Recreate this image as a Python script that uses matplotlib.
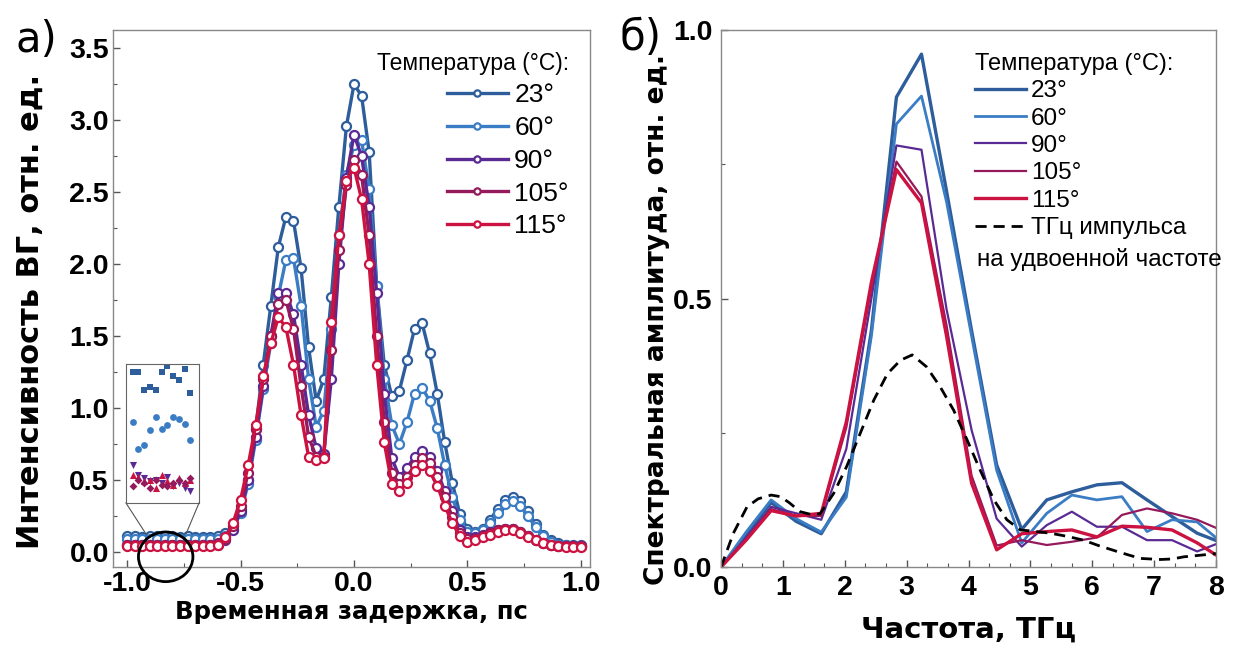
import matplotlib
matplotlib.use('Agg')
import matplotlib.pyplot as plt
from matplotlib.ticker import MultipleLocator, AutoMinorLocator
from matplotlib.patches import Ellipse
from matplotlib.lines import Line2D
import numpy as np

plt.rcParams['font.family'] = ['Liberation Sans', 'DejaVu Sans']
LABEL_FONT = ['DejaVu Sans']

# ---- panel a: SHG intensity vs delay ----
delay = np.round(np.arange(61) / 30.0 - 1.0, 4)  # ps, step 1/30 ps

temps = ['23°', '60°', '90°', '105°', '115°']
colors = ['#2d5d9b', '#3b7dc4', '#5a2a94', '#951a5c', '#cc1240']

shg_23 = [0.11, 0.11, 0.10, 0.11, 0.11, 0.11, 0.11, 0.10, 0.11, 0.10, 0.10, 0.10,
          0.11, 0.13, 0.18, 0.30, 0.50, 0.85, 1.30, 1.71, 2.12, 2.33, 2.30, 1.97,
          1.42, 1.05, 1.20, 1.77, 2.40, 2.96, 3.25, 3.17, 2.78, 1.85, 1.30, 1.08,
          1.12, 1.33, 1.55, 1.59, 1.38, 1.10, 0.76, 0.48, 0.26, 0.16, 0.14, 0.16,
          0.22, 0.30, 0.36, 0.38, 0.35, 0.28, 0.19, 0.12, 0.08, 0.06, 0.05, 0.05,
          0.05]
shg_60 = [0.09, 0.09, 0.09, 0.09, 0.09, 0.09, 0.09, 0.09, 0.09, 0.09, 0.09, 0.09,
          0.09, 0.11, 0.16, 0.27, 0.47, 0.78, 1.13, 1.45, 1.78, 2.03, 2.04, 1.71,
          1.20, 0.87, 0.98, 1.55, 2.20, 2.62, 2.83, 2.86, 2.52, 1.85, 1.20, 0.88,
          0.75, 0.90, 1.10, 1.14, 1.05, 0.86, 0.60, 0.38, 0.22, 0.14, 0.13, 0.15,
          0.20, 0.27, 0.33, 0.35, 0.32, 0.25, 0.17, 0.11, 0.07, 0.05, 0.05, 0.04,
          0.04]
shg_90 = [0.05, 0.05, 0.05, 0.05, 0.05, 0.05, 0.05, 0.05, 0.05, 0.05, 0.05, 0.05,
          0.05, 0.08, 0.15, 0.28, 0.50, 0.80, 1.15, 1.50, 1.80, 1.80, 1.65, 1.30,
          0.95, 0.72, 0.68, 1.20, 2.00, 2.60, 2.90, 2.75, 2.40, 1.80, 1.10, 0.65,
          0.52, 0.58, 0.66, 0.70, 0.66, 0.56, 0.42, 0.28, 0.15, 0.10, 0.10, 0.12,
          0.14, 0.15, 0.16, 0.16, 0.14, 0.11, 0.08, 0.06, 0.05, 0.04, 0.04, 0.04,
          0.04]
shg_105 = [0.05, 0.05, 0.05, 0.05, 0.05, 0.05, 0.05, 0.05, 0.05, 0.05, 0.05, 0.05,
           0.06, 0.09, 0.18, 0.32, 0.55, 0.85, 1.20, 1.50, 1.72, 1.75, 1.55, 1.15,
           0.80, 0.66, 0.66, 1.40, 2.10, 2.55, 2.72, 2.62, 2.20, 1.50, 0.90, 0.55,
           0.47, 0.52, 0.60, 0.65, 0.62, 0.52, 0.38, 0.24, 0.13, 0.09, 0.09, 0.11,
           0.13, 0.15, 0.16, 0.16, 0.14, 0.11, 0.08, 0.06, 0.05, 0.04, 0.04, 0.04,
           0.04]
shg_115 = [0.04, 0.04, 0.04, 0.04, 0.04, 0.04, 0.04, 0.04, 0.04, 0.04, 0.04, 0.04,
           0.05, 0.10, 0.20, 0.36, 0.60, 0.88, 1.22, 1.45, 1.63, 1.56, 1.30, 0.95,
           0.66, 0.64, 0.65, 1.60, 2.20, 2.58, 2.67, 2.45, 2.00, 1.30, 0.76, 0.47,
           0.42, 0.48, 0.56, 0.60, 0.56, 0.46, 0.32, 0.20, 0.11, 0.07, 0.08, 0.10,
           0.12, 0.14, 0.15, 0.15, 0.13, 0.10, 0.08, 0.06, 0.05, 0.04, 0.03, 0.03,
           0.03]
shg_series = [shg_23, shg_60, shg_90, shg_105, shg_115]

# zoomed baseline (inset)
inset_idx = np.arange(11)
inset_sq = [0.114, 0.114, 0.103, 0.105, 0.103, 0.114, 0.118, 0.112, 0.109, 0.116, 0.101]
inset_ci = [0.083, 0.066, 0.069, 0.078, 0.086, 0.079, 0.081, 0.086, 0.085, 0.082, 0.072]
inset_dn = [0.056, 0.050, 0.048, 0.046, 0.047, 0.045, 0.049, 0.043, 0.045, 0.042, 0.040]
inset_up = [0.050, 0.049, 0.046, 0.047, 0.042, 0.050, 0.046, 0.044, 0.048, 0.045, 0.047]
inset_dm = [0.043, 0.047, 0.045, 0.042, 0.047, 0.044, 0.043, 0.045, 0.047, 0.045, 0.048]

# ---- panel b: spectra ----
freq = np.round(np.arange(21) * 0.405, 3)  # THz
spec_23 = [0, 0.060, 0.120, 0.085, 0.062, 0.140, 0.440, 0.875, 0.955, 0.700, 0.440,
           0.190, 0.070, 0.125, 0.140, 0.153, 0.157, 0.125, 0.094, 0.063, 0.045]
spec_60 = [0, 0.065, 0.125, 0.090, 0.065, 0.130, 0.430, 0.825, 0.877, 0.680, 0.430,
           0.180, 0.045, 0.100, 0.134, 0.125, 0.131, 0.066, 0.088, 0.084, 0.045]
spec_90 = [0, 0.055, 0.112, 0.100, 0.088, 0.220, 0.500, 0.785, 0.777, 0.480, 0.255,
           0.090, 0.038, 0.078, 0.103, 0.075, 0.075, 0.050, 0.050, 0.029, 0.047]
spec_105 = [0, 0.050, 0.108, 0.095, 0.095, 0.260, 0.520, 0.755, 0.690, 0.450, 0.170,
            0.040, 0.050, 0.041, 0.047, 0.055, 0.097, 0.109, 0.100, 0.088, 0.068]
spec_115 = [0, 0.050, 0.105, 0.095, 0.100, 0.270, 0.530, 0.740, 0.678, 0.430, 0.156,
            0.032, 0.062, 0.066, 0.069, 0.056, 0.076, 0.074, 0.069, 0.045, 0.015]
spec_series = [spec_23, spec_60, spec_90, spec_105, spec_115]
spec_lw = [2.4, 2.0, 1.6, 1.6, 2.4]

pulse_f = [0, 0.2, 0.42, 0.6, 0.81, 0.96, 1.1, 1.28, 1.45, 1.6, 1.82, 2.03, 2.25,
           2.47, 2.69, 2.9, 3.09, 3.32, 3.54, 3.76, 3.98, 4.19, 4.41, 4.62, 4.84,
           5.1, 5.32, 5.6, 5.86, 6.1, 6.4, 6.6, 6.78, 7.1, 7.3, 7.48, 7.75, 8.0]
pulse_a = [0, 0.063, 0.112, 0.127, 0.134, 0.131, 0.120, 0.103, 0.098, 0.099, 0.137,
           0.187, 0.249, 0.311, 0.360, 0.385, 0.395, 0.373, 0.336, 0.292, 0.236,
           0.180, 0.125, 0.088, 0.069, 0.066, 0.063, 0.057, 0.050, 0.040, 0.029,
           0.022, 0.016, 0.014, 0.015, 0.019, 0.022, 0.025]

fig = plt.figure(figsize=(12.34, 6.45), dpi=100)
ax1 = fig.add_axes([0.0916, 0.1209, 0.3865, 0.8326])
ax2 = fig.add_axes([0.5843, 0.1209, 0.4011, 0.8326])

for vals, lab, c in zip(shg_series, temps, colors):
    ax1.plot(delay, vals, '-o', color=c, lw=2.4, ms=6.5, mfc='white', mec=c,
             mew=1.6, label=lab)

ax1.set_xlim(-1.062, 1.04)
ax1.set_ylim(-0.106, 3.627)
ax1.xaxis.set_major_locator(MultipleLocator(0.5))
ax1.xaxis.set_minor_locator(AutoMinorLocator(2))
ax1.yaxis.set_major_locator(MultipleLocator(0.5))
ax1.yaxis.set_minor_locator(AutoMinorLocator(2))
ax1.set_xlabel('Временная задержка, пс', fontsize=17.6, fontweight='bold',
               family=LABEL_FONT, labelpad=2)
ax1.set_ylabel('Интенсивность ВГ, отн. ед.', fontsize=22, fontweight='bold',
               family=LABEL_FONT)
ax1.yaxis.set_label_coords(-0.143, 0.476)

leg1 = ax1.legend(title='Температура (°C):', loc='upper right',
                  bbox_to_anchor=(0.983, 0.984), frameon=False, fontsize=19,
                  title_fontsize=16.5, handlelength=2.3, handletextpad=0.25,
                  labelspacing=0.33, alignment='right', markerscale=0.7,
                  borderpad=0)

for vals, lab, c, lw in zip(spec_series, temps, colors, spec_lw):
    ax2.plot(freq, vals, '-', color=c, lw=lw, label=lab)
ax2.plot(pulse_f, pulse_a, '--', color='black', lw=2.0, dashes=(4, 2.5),
         label='ТГц импульса')

ax2.set_xlim(0, 8)
ax2.set_ylim(0, 1.0)
ax2.xaxis.set_major_locator(MultipleLocator(1))
ax2.xaxis.set_minor_locator(AutoMinorLocator(3))
ax2.yaxis.set_major_locator(MultipleLocator(0.5))
ax2.yaxis.set_minor_locator(AutoMinorLocator(2))
ax2.set_xlabel('Частота, ТГц', fontsize=21, fontweight='bold',
               family=LABEL_FONT, labelpad=10)
ax2.set_ylabel('Спектральная амплитуда, отн. ед.', fontsize=19, fontweight='bold',
               family=LABEL_FONT)
ax2.yaxis.set_label_coords(-0.104, 0.46)

leg2 = ax2.legend(title='Температура (°C):', loc='upper left',
                  bbox_to_anchor=(0.489, 0.98), frameon=False, fontsize=17.5,
                  title_fontsize=17, handlelength=2.1, handletextpad=0.2,
                  labelspacing=0.22, alignment='left', borderpad=0)
ax2.text(0.517, 0.572, 'на удвоенной частоте', transform=ax2.transAxes,
         fontsize=17.5, va='center', ha='left')

for ax in (ax1, ax2):
    ax.tick_params(which='both', direction='in', color='#555555', pad=3)
    ax.tick_params(which='major', length=5, width=1)
    ax.tick_params(which='minor', length=3, width=0.8)
    for sp in ax.spines.values():
        sp.set_color('#888888')
        sp.set_linewidth(1.0)
ax2.tick_params(axis='both', which='major', pad=6)

ax1.set_xticks([-1.0, -0.5, 0.0, 0.5, 1.0])
ax1.set_xticklabels(['-1.0', '-0.5', '0.0', '0.5', '1.0'])
ax2.set_yticks([0.0, 0.5, 1.0])
ax2.set_yticklabels(['0.0', '0.5', '1.0'])
for ax in (ax1, ax2):
    for lbl in ax.get_xticklabels() + ax.get_yticklabels():
        lbl.set_fontweight('bold')
        lbl.set_fontsize(20.5)

# inset with zoomed baseline
axin = fig.add_axes([0.1021, 0.2202, 0.0592, 0.2155])
axin.scatter(inset_idx, inset_sq, marker='s', s=22, color=colors[0], lw=0)
axin.scatter(inset_idx, inset_ci, marker='o', s=24, color=colors[1], lw=0)
axin.scatter(inset_idx, inset_dn, marker='v', s=26, color=colors[2], lw=0)
axin.scatter(inset_idx, inset_up, marker='^', s=26, color=colors[4], lw=0)
axin.scatter(inset_idx, inset_dm, marker='D', s=16, color=colors[3], lw=0)
axin.set_xlim(-1.15, 11.49)
axin.set_ylim(0.0326, 0.1193)
axin.set_xticks([])
axin.set_yticks([])
for sp in axin.spines.values():
    sp.set_color('#666666')
    sp.set_linewidth(0.8)

# circle marking the zoomed region and connector lines
ax1.add_patch(Ellipse((-0.83, -0.035), 0.24, 0.345, fill=False, ec='black',
                      lw=2.0, clip_on=False, zorder=10))
W, H = 1234.0, 645.0
fig.add_artist(Line2D([126 / W, 146 / W], [1 - 503 / H, 1 - 534 / H],
                      color='#555555', lw=0.8))
fig.add_artist(Line2D([199 / W, 186 / W], [1 - 503 / H, 1 - 534 / H],
                      color='#555555', lw=0.8))

fig.text(36 / W, 1 - 40 / H, 'а)', fontsize=30, ha='center', va='center',
         family=LABEL_FONT)
fig.text(640 / W, 1 - 38 / H, 'б)', fontsize=30, ha='center', va='center',
         family=LABEL_FONT)

fig.savefig('out.png', dpi=100)
